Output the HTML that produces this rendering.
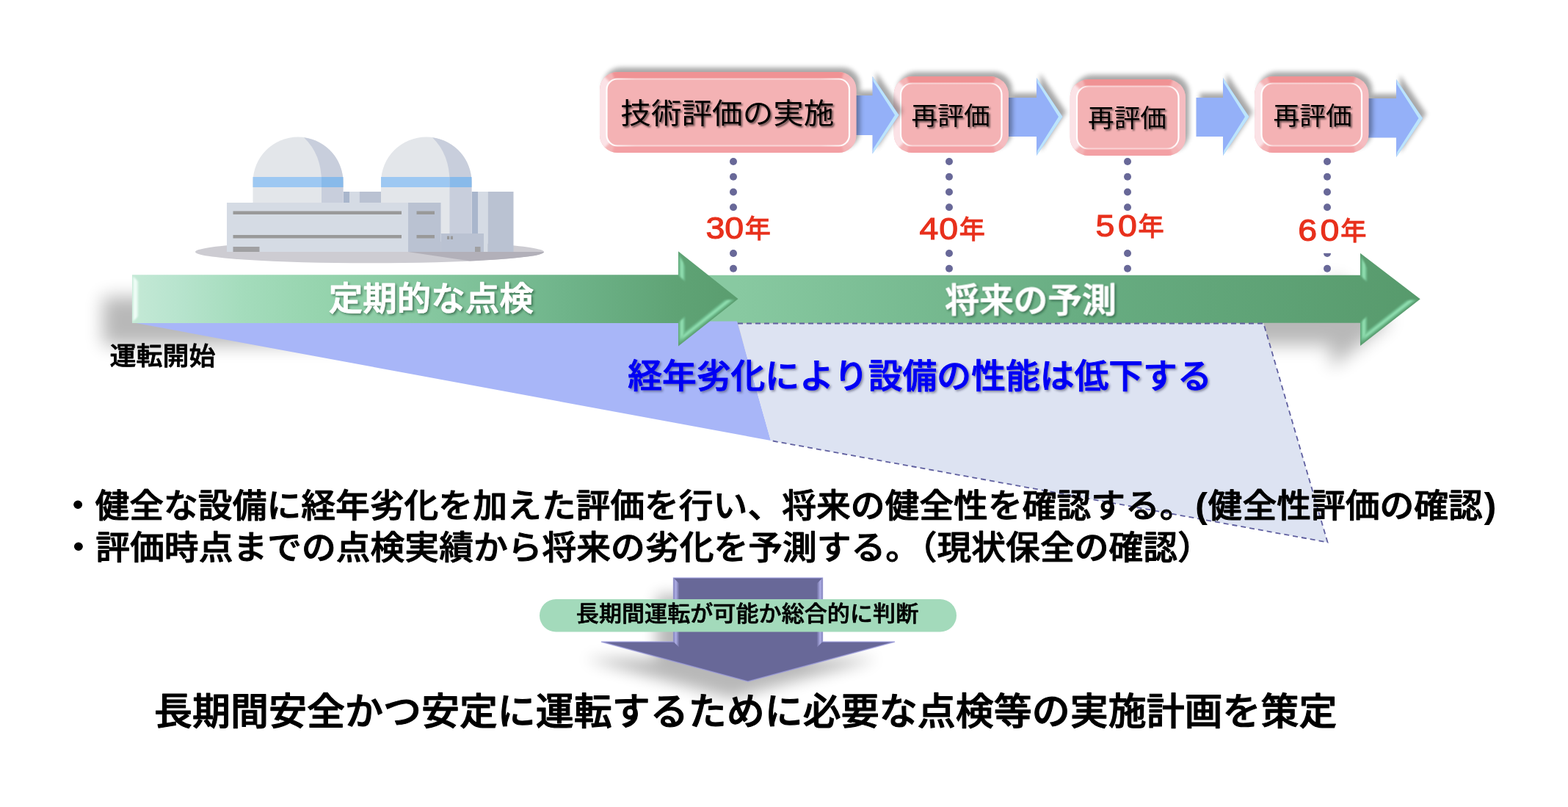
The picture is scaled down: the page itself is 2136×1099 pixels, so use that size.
<!DOCTYPE html>
<html lang="ja">
<head>
<meta charset="utf-8">
<title>高経年化技術評価</title>
<style>
html,body{margin:0;padding:0;background:#fff;}
body{width:2136px;height:1099px;overflow:hidden;position:relative;}
svg{position:absolute;left:0;top:0;display:block;will-change:transform;}
text{font-family:"Liberation Sans","Noto Sans CJK JP",sans-serif;text-spacing-trim:space-all;font-kerning:none;}
.jp{font-family:"Noto Sans CJK JP","Liberation Sans",sans-serif;}
.b{font-weight:500;stroke-width:0.022em;paint-order:stroke;stroke-linejoin:round;}
.box{font-weight:400;fill:#000;}
.yr text{fill:#e8301c;}
.dg{font-weight:400;stroke:#e8301c;stroke-width:1.2px;}
.kj{font-weight:500;stroke:#e8301c;stroke-width:0.5px;}
.dot{fill:#686898;}
.pr{font-family:"Liberation Sans",sans-serif;font-size:51px;font-weight:700;stroke-width:0;}
</style>
</head>
<body>
<svg width="2136" height="1099" viewBox="0 0 2136 1099">
<defs>
  <linearGradient id="gA1" gradientUnits="userSpaceOnUse" x1="180" y1="0" x2="1005" y2="0">
    <stop offset="0" stop-color="#c4e9d6"/>
    <stop offset="0.073" stop-color="#b8e4ce"/>
    <stop offset="0.182" stop-color="#a4dcbc"/>
    <stop offset="0.309" stop-color="#96d4ae"/>
    <stop offset="0.509" stop-color="#84c69e"/>
    <stop offset="0.715" stop-color="#6fb48a"/>
    <stop offset="0.9" stop-color="#5fa375"/>
    <stop offset="1" stop-color="#5a9d6f"/>
  </linearGradient>
  <linearGradient id="gA2" gradientUnits="userSpaceOnUse" x1="1005" y1="0" x2="1935" y2="0">
    <stop offset="0" stop-color="#88c9a1"/>
    <stop offset="0.5" stop-color="#68ad82"/>
    <stop offset="1" stop-color="#579a6c"/>
  </linearGradient>
  <linearGradient id="gHiL" gradientUnits="userSpaceOnUse" x1="180" y1="0" x2="190" y2="0">
    <stop offset="0" stop-color="#d8f4e6"/>
    <stop offset="0.45" stop-color="#f4fffa"/>
    <stop offset="1" stop-color="#c8ecd9"/>
  </linearGradient>
  <linearGradient id="gWl" x1="0" y1="0" x2="1" y2="0">
    <stop offset="0" stop-color="#fff" stop-opacity="1"/>
    <stop offset="0.12" stop-color="#fff" stop-opacity="0.5"/>
    <stop offset="0.88" stop-color="#fff" stop-opacity="0.5"/>
    <stop offset="1" stop-color="#fff" stop-opacity="1"/>
  </linearGradient>
  <linearGradient id="gDnL" gradientUnits="userSpaceOnUse" x1="917.5" y1="0" x2="925.5" y2="0">
    <stop offset="0" stop-color="#8484bc"/>
    <stop offset="0.4" stop-color="#aeaee6"/>
    <stop offset="1" stop-color="#686898"/>
  </linearGradient>
  <linearGradient id="gDnR" gradientUnits="userSpaceOnUse" x1="1120.5" y1="0" x2="1112.5" y2="0">
    <stop offset="0" stop-color="#8484bc"/>
    <stop offset="0.4" stop-color="#aeaee6"/>
    <stop offset="1" stop-color="#686898"/>
  </linearGradient>
  <filter id="shBig" x="-10%" y="-50%" width="120%" height="220%"><feGaussianBlur stdDeviation="12"/></filter>
  <filter id="shDown" x="-20%" y="-30%" width="140%" height="170%"><feGaussianBlur stdDeviation="10"/></filter>
  <filter id="shSm" x="-10%" y="-20%" width="120%" height="140%"><feGaussianBlur stdDeviation="3.2"/></filter>
  <filter id="tsh" x="-2%" y="-20%" width="104%" height="150%">
    <feGaussianBlur in="SourceAlpha" stdDeviation="1.2" result="b"/><feOffset in="b" dx="1.6" dy="1.8" result="o"/>
    <feFlood flood-color="#000" flood-opacity="0.55"/><feComposite in2="o" operator="in"/>
    <feMerge><feMergeNode/><feMergeNode in="SourceGraphic"/></feMerge>
  </filter>
  <filter id="tshW" x="-2%" y="-30%" width="104%" height="170%">
    <feGaussianBlur in="SourceAlpha" stdDeviation="1.5" result="b"/><feOffset in="b" dx="2" dy="2.2" result="o"/>
    <feFlood flood-color="#10301c" flood-opacity="0.5"/><feComposite in2="o" operator="in"/>
    <feMerge><feMergeNode/><feMergeNode in="SourceGraphic"/></feMerge>
  </filter>
  <filter id="tshB" x="-2%" y="-30%" width="104%" height="170%">
    <feGaussianBlur in="SourceAlpha" stdDeviation="1.5" result="b"/><feOffset in="b" dx="2" dy="2.2" result="o"/>
    <feFlood flood-color="#303050" flood-opacity="0.5"/><feComposite in2="o" operator="in"/>
    <feMerge><feMergeNode/><feMergeNode in="SourceGraphic"/></feMerge>
  </filter>
  <filter id="bev" x="-5%" y="-20%" width="110%" height="140%"><feGaussianBlur stdDeviation="1.6"/></filter>
  <filter id="bv1" x="-30%" y="-10%" width="160%" height="120%"><feGaussianBlur stdDeviation="0.9"/></filter>
</defs>

<!-- ===== shadows of green arrows ===== -->
<g id="green-shadows" filter="url(#shBig)" opacity="0.28" transform="translate(-40,30)">
  <rect x="180" y="374.2" width="830" height="65.7" fill="#000"/>
  <path d="M960 374.8H1853V344.8L1934.7 407.3L1853 471V439.7H960Z" fill="#000"/>
</g>

<!-- ===== green arrow (future) ===== -->
<g id="green-arrow-2">
  <path d="M945 374.8H1853V344.8L1934.7 407.3L1853 471V439.7H945Z" fill="url(#gA2)"/>
  <g filter="url(#bv1)">
    <polygon points="1854,348.8 1862,364.8 1862,383.8 1854,375.8" fill="#74c596" opacity="0.85"/>
    <polygon points="1854,467 1862,451 1862,430.7 1854,438.7" fill="#74c596" opacity="0.85"/>
    <polygon points="1856.2,353.2 1859.6,360 1859.6,381.4 1856.2,378" fill="#93e2b3" opacity="0.95"/>
    <polygon points="1856.2,462.6 1859.6,455.8 1859.6,433.1 1856.2,436.5" fill="#93e2b3" opacity="0.95"/>
    <polygon points="1855.5,466 1929.7,408.3 1916.7,408.9 1862,451.5" fill="#74c596" opacity="0.85"/>
    <polygon points="1857.5,461.5 1925.7,408.6 1920.2,408.8 1860.5,455.5" fill="#93e2b3" opacity="0.95"/>
  </g>
</g>

<!-- ===== degradation wedge ===== -->
<g id="wedge">
  <polygon points="180,439 1004,437.5 1050,600" fill="#a8b6f8"/>
  <polygon points="1005,440.5 1721.3,440.5 1808.5,738.5 1050,600" fill="#dde3f2"/>
  <polyline points="1005,440.5 1721.3,440.5 1808.5,738.5 1050,600" fill="none" stroke="#6060a0" stroke-width="1.8" stroke-dasharray="7 5"/>
</g>

<!-- ===== green arrow (past) ===== -->
<g id="green-arrow-1">
  <path d="M180 374.2H924V342.2L1005.5 407L924 471.5V439.9H180Z" fill="url(#gA1)"/>
  <polygon points="181,376 188.5,383.5 188.5,430.5 181,438" fill="url(#gHiL)" filter="url(#bv1)"/>
  <g filter="url(#bv1)">
    <polygon points="925,346.2 933,362.2 933,383.2 925,375.2" fill="#74c596" opacity="0.85"/>
    <polygon points="925,467.5 933,451.5 933,430.9 925,438.9" fill="#74c596" opacity="0.85"/>
    <polygon points="927.2,350.6 930.6,357.4 930.6,380.8 927.2,377.4" fill="#93e2b3" opacity="0.95"/>
    <polygon points="927.2,463.1 930.6,456.3 930.6,433.3 927.2,436.7" fill="#93e2b3" opacity="0.95"/>
    <polygon points="926.5,466.5 1000.5,408 987.5,408.6 933,452" fill="#74c596" opacity="0.85"/>
    <polygon points="928.5,462 996.5,408.3 991,408.5 931.5,456" fill="#93e2b3" opacity="0.95"/>
  </g>
</g>

<!-- ===== power plant illustration ===== -->
<g id="plant">
  <ellipse cx="503.5" cy="343" rx="237.5" ry="15.3" fill="#cdccd2"/>
  <path d="M556 343 L741 343 A237.5 15.3 0 0 1 640 355.5 Z" fill="#b2b0b9"/>
  <rect x="642.5" y="261" width="9" height="82" fill="#a9b6cc"/>
  <rect x="651.5" y="261" width="13" height="82" fill="#d5dbe4"/>
  <rect x="664.5" y="261" width="35" height="82" fill="#bac2d2"/>
  <rect x="467.5" y="261" width="9" height="16" fill="#a9b6cc"/>
  <rect x="476.5" y="261" width="13" height="16" fill="#d5dbe4"/>
  <rect x="489.5" y="261" width="30" height="16" fill="#bac2d2"/>
  <path d="M344.5 277 V248 A61.5 61.5 0 0 1 467.5 248 V277 Z" fill="#e3e6ea"/>
  <path d="M414 187.300 A61.5 61.5 0 0 1 467.5 248 V277 H438 V248 Q438 210 414 187.300Z" fill="#c8cedc"/>
  <rect x="344.5" y="241" width="93.5" height="14" fill="#9dc8f2"/>
  <rect x="438" y="241" width="29.5" height="14" fill="#88baea"/>
  <path d="M519 277 V248 A61.75 61.5 0 0 1 642.5 248 V319 H600 V277 Z" fill="#e3e6ea"/>
  <path d="M589 187.300 A61.5 61.5 0 0 1 642.5 248 V319 H612.5 V248 Q612.5 210 589 187.300Z" fill="#c8cedc"/>
  <rect x="519" y="241" width="93.5" height="14" fill="#9dc8f2"/>
  <rect x="612.5" y="241" width="30" height="14" fill="#88baea"/>
  <rect x="309" y="276" width="247" height="67" fill="#d5dbe4"/>
  <rect x="317.5" y="287.5" width="229.5" height="4.5" fill="#999"/>
  <rect x="317.5" y="320" width="229.5" height="4.5" fill="#999"/>
  <rect x="317.5" y="336" width="36" height="7" fill="#a0a0a2"/>
  <rect x="556" y="276" width="44.5" height="67" fill="#bac2d2"/>
  <rect x="567.5" y="287.5" width="24.5" height="4.5" fill="#999"/>
  <rect x="567.5" y="320" width="24.5" height="4.5" fill="#999"/>
  <rect x="600.5" y="318" width="58.5" height="25" fill="#bac2d2"/>
  <rect x="609" y="321.5" width="3.2" height="4.5" fill="#999"/>
  <rect x="613.8" y="321.5" width="3.2" height="4.5" fill="#999"/>
  <rect x="647" y="336" width="7.5" height="7" fill="#a0a0a2"/>
</g>

<!-- ===== dotted guide lines ===== -->
<g class="dots"><circle class="dot" cx="999" cy="220" r="5"/><circle class="dot" cx="999" cy="240.75" r="5"/><circle class="dot" cx="999" cy="261.5" r="5"/><circle class="dot" cx="999" cy="282.2" r="5"/><circle class="dot" cx="999" cy="345" r="5"/><circle class="dot" cx="999" cy="365.8" r="5"/></g>
<g class="dots"><circle class="dot" cx="1293" cy="220" r="5"/><circle class="dot" cx="1293" cy="240.75" r="5"/><circle class="dot" cx="1293" cy="261.5" r="5"/><circle class="dot" cx="1293" cy="282.2" r="5"/><circle class="dot" cx="1293" cy="345" r="5"/><circle class="dot" cx="1293" cy="365.8" r="5"/></g>
<g class="dots"><circle class="dot" cx="1536" cy="220" r="5"/><circle class="dot" cx="1536" cy="240.75" r="5"/><circle class="dot" cx="1536" cy="261.5" r="5"/><circle class="dot" cx="1536" cy="282.2" r="5"/><circle class="dot" cx="1536" cy="345" r="5"/><circle class="dot" cx="1536" cy="365.8" r="5"/></g>
<g class="dots"><circle class="dot" cx="1808" cy="220" r="5"/><circle class="dot" cx="1808" cy="240.75" r="5"/><circle class="dot" cx="1808" cy="261.5" r="5"/><circle class="dot" cx="1808" cy="282.2" r="5"/><circle class="dot" cx="1808" cy="345" r="5"/><circle class="dot" cx="1808" cy="365.8" r="5"/></g>
<rect x="1790" y="330" width="40" height="14.8" fill="#fff"/>

<!-- ===== evaluation boxes and arrows ===== -->
<g class="barrow">
  <path d="M1864 134H1902V108L1938 161L1902 214V187.5H1864Z" fill="#000" opacity="0.34" filter="url(#shSm)" transform="translate(5,-6)"/>
  <path d="M1864 134H1902V108L1938 161L1902 214V187.5H1864Z" fill="#94b0f8"/>
  <path d="M1902 108L1938 161L1902 214L1903.2 207L1932.5 161L1903.2 115Z" fill="#bce4fc"/>
</g>
<g class="pbox">
  <rect x="1714" y="98" width="155.5" height="104" rx="25" fill="#000" opacity="0.34" filter="url(#shSm)"/>
  <clipPath id="cb3"><rect x="1709" y="104" width="155.5" height="104" rx="25"/></clipPath>
  <g clip-path="url(#cb3)">
    <rect x="1709" y="104" width="155.5" height="104" fill="#f4b4b6"/>
    <g filter="url(#bev)">
      <polygon points="1870.5,98 1870.5,214 1850,193.5 1850,118.5" fill="#f5bcc0"/>
      <polygon points="1703,98 1703,214 1723.5,193.5 1723.5,118.5" fill="#fbe2e6"/>
      <polygon points="1724,98 1849.5,98 1842,118.5 1731.5,118.5" fill="#f09294"/>
      <polygon points="1724,214 1849.5,214 1842,193.5 1731.5,193.5" fill="#f3a0a4"/>
    </g>
  </g>
  <rect x="1718.5" y="113.5" width="136.5" height="85" rx="15.5" fill="#f4b2b4" stroke="url(#gWl)" stroke-width="2.2"/>
</g>
<g class="barrow">
  <path d="M1629.5 133H1666V106L1701.5 159L1666 212V186H1629.5Z" fill="#000" opacity="0.34" filter="url(#shSm)" transform="translate(5,-6)"/>
  <path d="M1629.5 133H1666V106L1701.5 159L1666 212V186H1629.5Z" fill="#94b0f8"/>
  <path d="M1666 106L1701.5 159L1666 212L1667.2 205L1696 159L1667.2 113Z" fill="#bce4fc"/>
</g>
<g class="pbox">
  <rect x="1462.5" y="102" width="157.5" height="104" rx="25" fill="#000" opacity="0.34" filter="url(#shSm)"/>
  <clipPath id="cb2"><rect x="1457.5" y="108" width="157.5" height="104" rx="25"/></clipPath>
  <g clip-path="url(#cb2)">
    <rect x="1457.5" y="108" width="157.5" height="104" fill="#f4b4b6"/>
    <g filter="url(#bev)">
      <polygon points="1621,102 1621,218 1600.5,197.5 1600.5,122.5" fill="#f5bcc0"/>
      <polygon points="1451.5,102 1451.5,218 1472,197.5 1472,122.5" fill="#fbe2e6"/>
      <polygon points="1472.5,102 1600,102 1592.5,122.5 1480,122.5" fill="#f09294"/>
      <polygon points="1472.5,218 1600,218 1592.5,197.5 1480,197.5" fill="#f3a0a4"/>
    </g>
  </g>
  <rect x="1467" y="117.5" width="138.5" height="85" rx="15.5" fill="#f4b2b4" stroke="url(#gWl)" stroke-width="2.2"/>
</g>
<g class="barrow">
  <path d="M1374 133H1412V106L1447.5 159L1412 212V186H1374Z" fill="#000" opacity="0.34" filter="url(#shSm)" transform="translate(5,-6)"/>
  <path d="M1374 133H1412V106L1447.5 159L1412 212V186H1374Z" fill="#94b0f8"/>
  <path d="M1412 106L1447.5 159L1412 212L1413.2 205L1442 159L1413.2 113Z" fill="#bce4fc"/>
</g>
<g class="pbox">
  <rect x="1222.5" y="98" width="156.5" height="104" rx="25" fill="#000" opacity="0.34" filter="url(#shSm)"/>
  <clipPath id="cb1"><rect x="1217.5" y="104" width="156.5" height="104" rx="25"/></clipPath>
  <g clip-path="url(#cb1)">
    <rect x="1217.5" y="104" width="156.5" height="104" fill="#f4b4b6"/>
    <g filter="url(#bev)">
      <polygon points="1380,98 1380,214 1359.5,193.5 1359.5,118.5" fill="#f5bcc0"/>
      <polygon points="1211.5,98 1211.5,214 1232,193.5 1232,118.5" fill="#fbe2e6"/>
      <polygon points="1232.5,98 1359,98 1351.5,118.5 1240,118.5" fill="#f09294"/>
      <polygon points="1232.5,214 1359,214 1351.5,193.5 1240,193.5" fill="#f3a0a4"/>
    </g>
  </g>
  <rect x="1227" y="113.5" width="137.5" height="85" rx="15.5" fill="#f4b2b4" stroke="url(#gWl)" stroke-width="2.2"/>
</g>
<g class="barrow">
  <path d="M1166 130H1188.5V104L1224.5 156.75L1188.5 209.5V184H1166Z" fill="#000" opacity="0.34" filter="url(#shSm)" transform="translate(5,-6)"/>
  <path d="M1166 130H1188.5V104L1224.5 156.75L1188.5 209.5V184H1166Z" fill="#94b0f8"/>
  <path d="M1188.5 104L1224.5 156.75L1188.5 209.5L1189.7 202.5L1219 156.75L1189.7 111Z" fill="#bce4fc"/>
</g>
<g class="pbox">
  <rect x="822" y="92" width="349.5" height="110" rx="24" fill="#000" opacity="0.34" filter="url(#shSm)"/>
  <clipPath id="cb0"><rect x="817" y="98" width="349.5" height="110" rx="24"/></clipPath>
  <g clip-path="url(#cb0)">
    <rect x="817" y="98" width="349.5" height="110" fill="#f4b4b6"/>
    <g filter="url(#bev)">
      <polygon points="1172.5,92 1172.5,214 1152,193.5 1152,112.5" fill="#f5bcc0"/>
      <polygon points="811,92 811,214 831.5,193.5 831.5,112.5" fill="#fbe2e6"/>
      <polygon points="831.4,92 1152.1,92 1144.9,112.5 838.6,112.5" fill="#f09294"/>
      <polygon points="831.4,214 1152.1,214 1144.9,193.5 838.6,193.5" fill="#f3a0a4"/>
    </g>
  </g>
  <rect x="826.5" y="107.5" width="330.5" height="91" rx="14.5" fill="#f4b2b4" stroke="url(#gWl)" stroke-width="2.2"/>
</g>

<!-- ===== box labels ===== -->
<g id="boxlabels" filter="url(#tsh)">
  <text class="jp box" font-size="41.6" transform="translate(845.3,167.7) scale(1,0.94)">技術評価の実施</text>
  <text class="jp box" font-size="35.7" transform="translate(1241.6,169.8) scale(1,0.95)">再評価</text>
  <text class="jp box" font-size="35.7" transform="translate(1482,172.8) scale(1,0.95)">再評価</text>
  <text class="jp box" font-size="35.7" transform="translate(1734.6,169.8) scale(1,0.95)">再評価</text>
</g>

<!-- ===== year labels ===== -->
<g id="years">
  <g class="yr"><text class="dg" font-size="46.5" letter-spacing="-0.06" transform="translate(961.5,324.8) scale(1,0.9)">30</text><text class="jp kj" font-size="35.6" x="1014.6" y="323.9">年</text></g>
  <g class="yr"><text class="dg" font-size="46.5" letter-spacing="0.94" transform="translate(1252.5,325.6) scale(1,0.9)">40</text><text class="jp kj" font-size="35.6" x="1306.4" y="324.9">年</text></g>
  <g class="yr"><text class="dg" font-size="46.5" letter-spacing="4.64" transform="translate(1492.5,322.3) scale(1,0.9)">50</text><text class="jp kj" font-size="35.6" x="1550.2" y="320.9">年</text></g>
  <g class="yr"><text class="dg" font-size="46.5" letter-spacing="4.44" transform="translate(1768.3,328.2) scale(1,0.9)">60</text><text class="jp kj" font-size="35.6" x="1826" y="326.8">年</text></g>
</g>

<!-- ===== texts ===== -->
<g id="texts">
  <g filter="url(#tshW)">
    <text class="jp b" transform="translate(447.8,422.9) scale(1,0.98)" font-size="46.5" fill="#fff" stroke="#fff">定期的な点検</text>
    <text class="jp b" transform="translate(1287.3,424.7) scale(1,0.98)" font-size="46.7" fill="#fff" stroke="#fff">将来の予測</text>
  </g>
  <text class="jp b" transform="translate(149.5,497.3) scale(1,0.96)" font-size="36" fill="#000" stroke="#000">運転開始</text>
  <g filter="url(#tshB)">
    <text class="jp b" transform="translate(855.2,528.1) scale(1,0.98)" font-size="46.8" fill="#0000f4" stroke="#0000f4">経年劣化により設備の性能は低下する</text>
  </g>
  <text class="jp b" transform="translate(82.7,705) scale(1,0.96)" font-size="46.8" fill="#000" stroke="#000">・健全な設備に経年劣化を加えた評価を行い、将来の健全性を確認する。<tspan class="pr" dx="1.5">(</tspan><tspan dx="0.5">健全性評価の確認</tspan><tspan class="pr" dx="1.5">)</tspan></text>
  <text class="jp b" transform="translate(83.5,761.9) scale(1,0.96)" font-size="46.8" fill="#000" stroke="#000">・評価時点までの点検実績から将来の劣化を予測する。<tspan dx="-23.4">（</tspan>現状保全の確認）</text>
</g>

<!-- ===== down arrow + pill ===== -->
<g id="downarrow">
  <path d="M917.5 787H1120.5V874H1219L1019 928L819 874H917.5Z" fill="#000" opacity="0.28" filter="url(#shDown)" transform="translate(-23,23)"/>
  <path d="M917.5 787H1120.5V874H1219L1019 928L819 874H917.5Z" fill="#686898"/>
  <path d="M917.5 787H1120.5V874H1219L1019 928L819 874H917.5Z" fill="none" stroke="#9c9cdc" stroke-width="1.4" stroke-opacity="0.75"/>
  <polygon points="917.5,787 925.5,795 925.5,882 917.5,874" fill="url(#gDnL)"/>
  <polygon points="1120.5,787 1112.5,795 1112.5,882 1120.5,874" fill="url(#gDnR)"/>
  <rect x="735" y="816" width="568" height="44.5" rx="22.25" fill="#a3dabb"/>
  <text class="jp b" transform="translate(784.8,845.8) scale(1,0.95)" font-size="31.1" fill="#000" stroke="#000">長期間運転が可能か総合的に判断</text>
</g>

<!-- ===== conclusion ===== -->
<g id="conclusion">
  <text class="jp b" transform="translate(210,987.1) scale(1,0.98)" font-size="52" fill="#000" stroke="#000">長期間安全かつ安定に運転するために必要な点検等の実施計画を策定</text>
</g>
</svg>
</body>
</html>
